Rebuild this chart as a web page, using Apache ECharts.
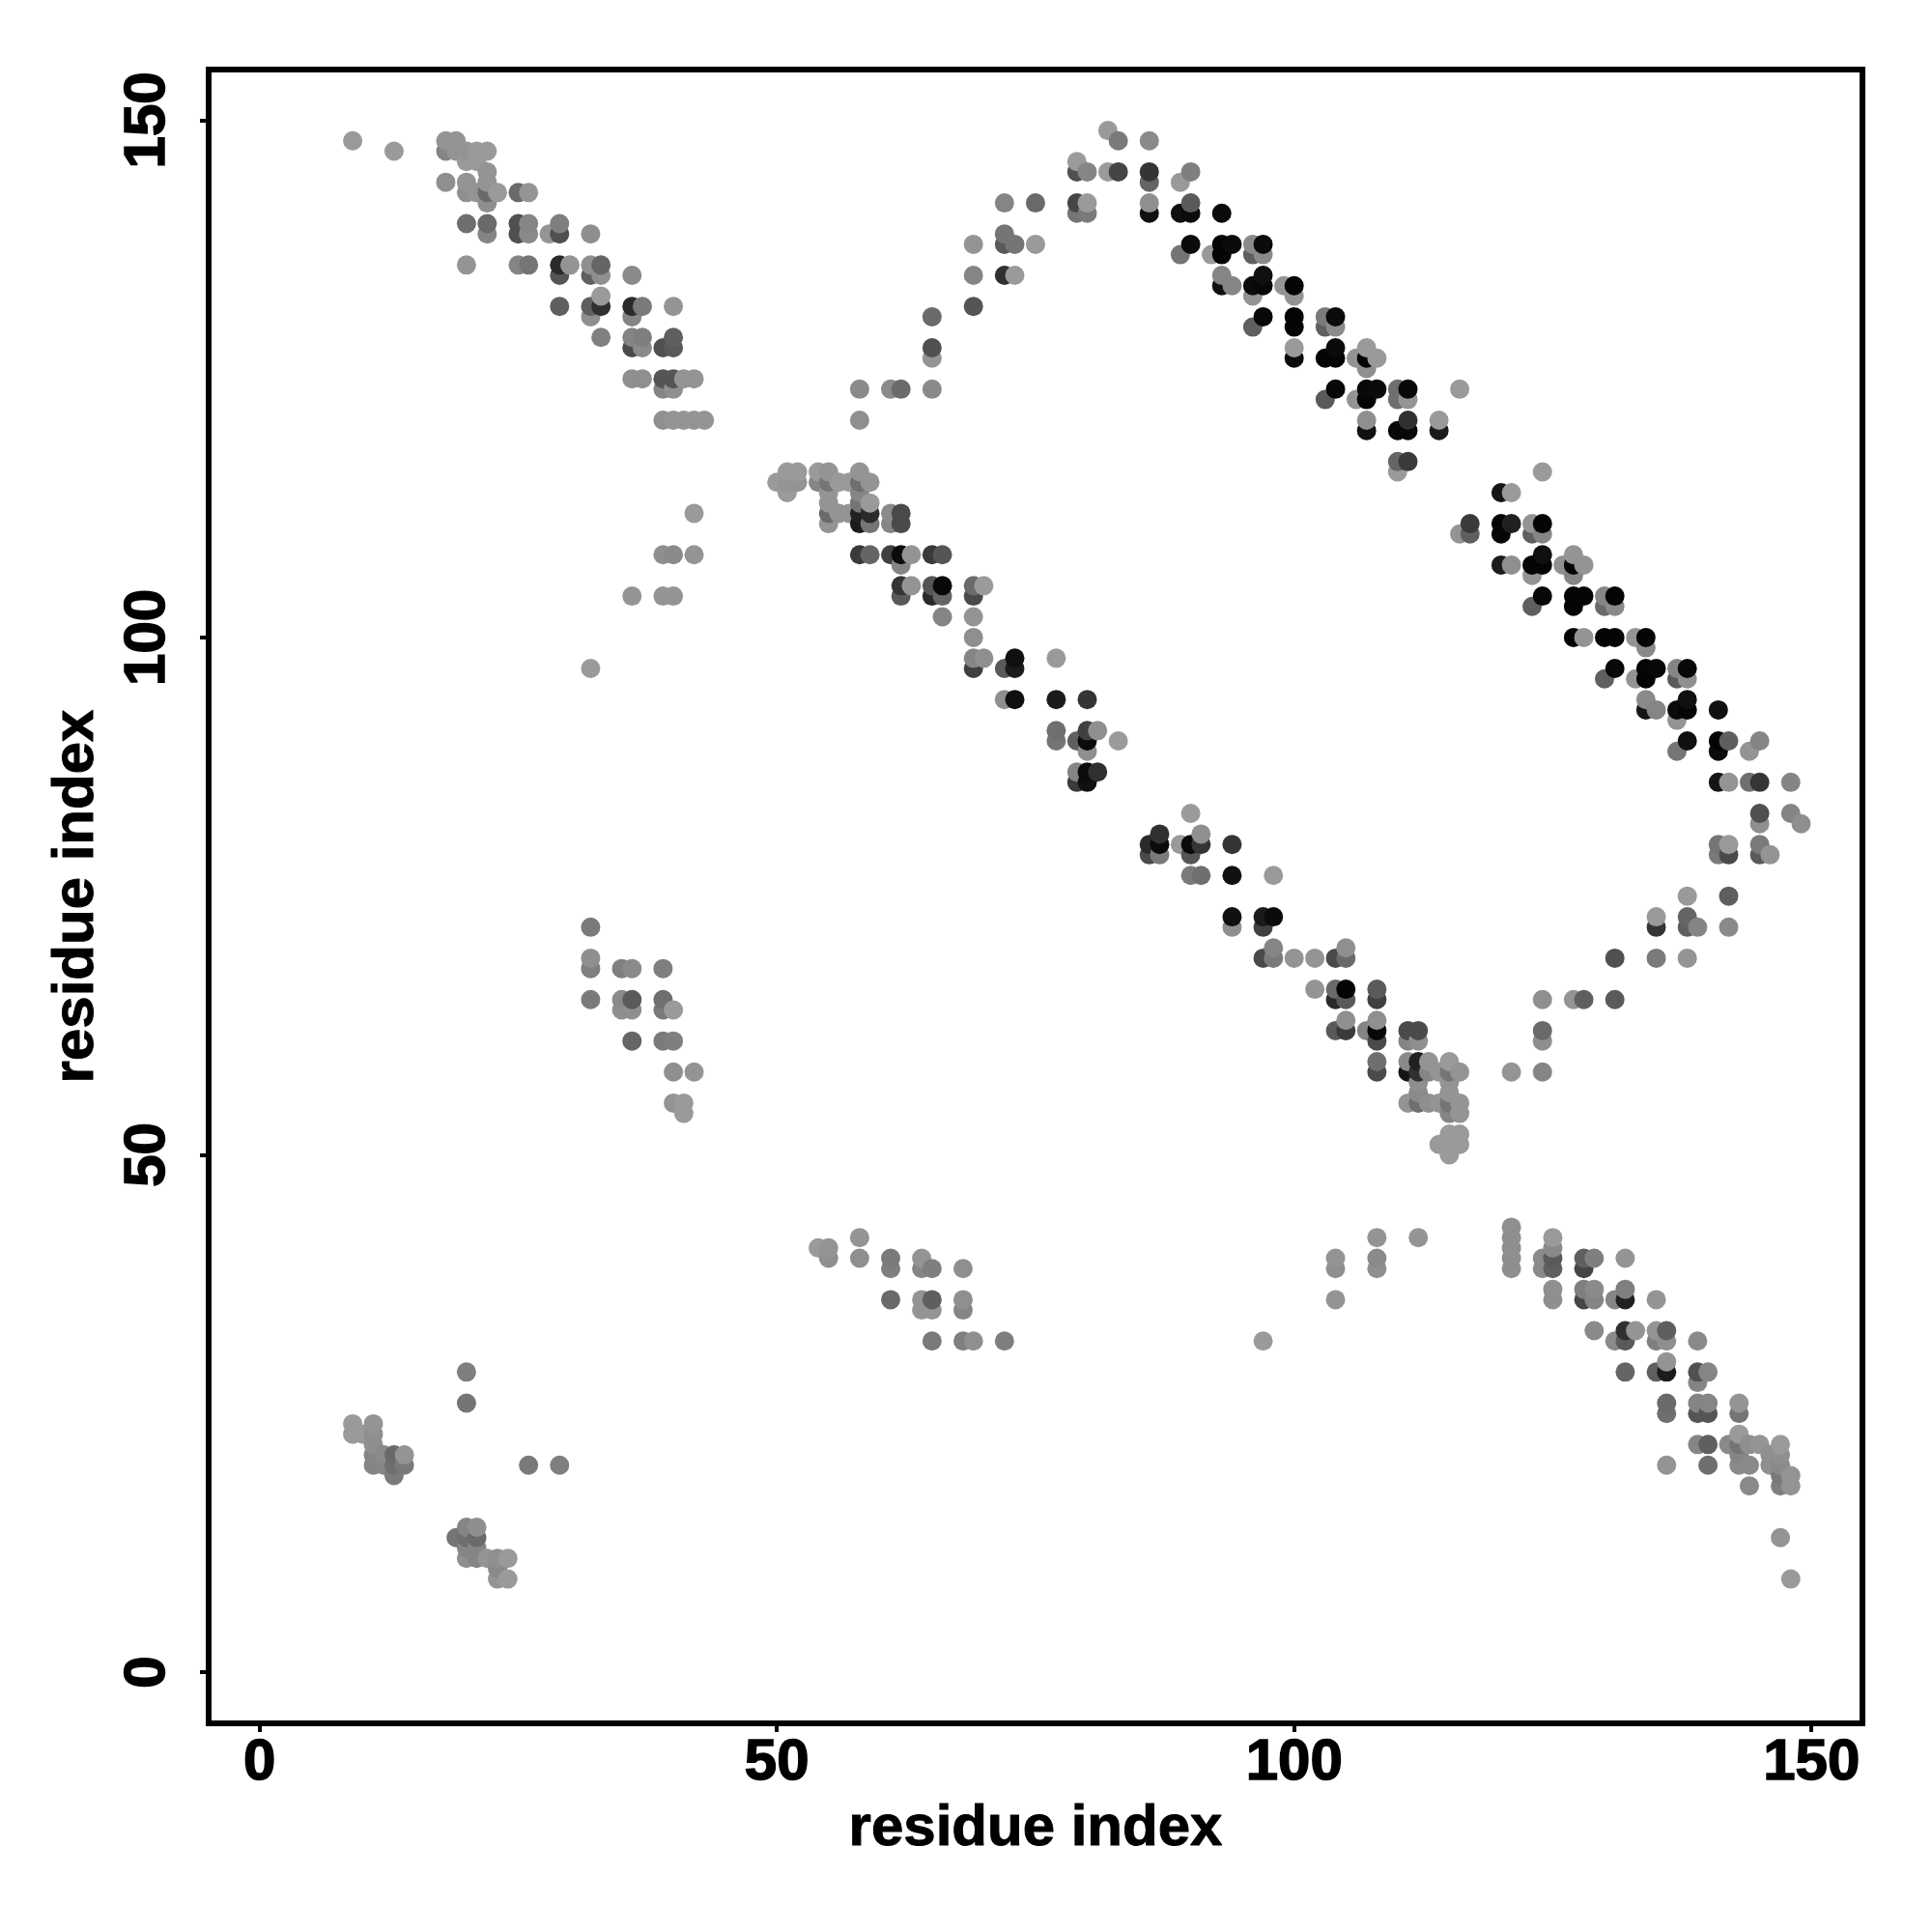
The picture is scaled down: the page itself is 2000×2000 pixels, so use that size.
<!DOCTYPE html>
<html><head><meta charset="utf-8">
<script src="https://cdn.jsdelivr.net/npm/echarts@6/dist/echarts.min.js"></script>
<style>html,body{margin:0;padding:0;background:#fff}#c{width:2000px;height:2000px}</style></head>
<body><div id="c"></div>
<script>
// Each contact: [residue x, residue y, grey level of the point]
var tickValues = [0, 50, 100, 150];
var axisTitle = 'residue index';
var bandTopLeft = [[9,148,145],[13,147,145],[18,148,140],[19,148,140],[18,147,125],[19,147,140],[20,147,140],[21,147,145],[22,147,145],[20,146,145],[21,146,145],[22,145,140],[18,144,135],[20,144,140],[22,144,140],[20,143,135],[21,143,140],[22,143,100],[23,143,145],[22,142,135],[25,143,100],[26,143,140],
[20,140,105],[22,140,100],[25,140,75],[26,140,125],[22,139,125],[25,139,75],[26,139,130],[28,139,140],[29,139,75],[29,140,120],[32,139,135],
[20,136,140],[25,136,125],[26,136,110],[29,136,40],[30,136,140],[32,136,135],[33,136,95],[32,135,90],[33,135,135],[29,135,80],[36,135,130],
[29,132,90],[32,132,90],[33,132,45],[33,133,145],[32,131,135],[36,132,40],[37,132,115],[36,131,125],[40,132,140],[33,129,120],[36,129,125],[37,129,120],[36,128,70],[37,128,130],[39,128,75],[40,128,85],[40,129,90],
[36,125,135],[37,125,135],[39,125,80],[40,125,80],[39,124,125],[40,124,135],[41,125,140],[42,125,140],
[39,121,135],[40,121,140],[41,121,140],[42,121,140],[43,121,140],
[42,112,145],[39,108,135],[40,108,130],[42,108,140],[36,104,140],[39,104,140],[40,104,140],[32,97,145]];
var bandCentreHigh = [[50,115,145],[51,116,145],[52,116,145],[51,115,140],[52,115,140],[51,114,145],[54,116,145],[55,116,140],[54,115,125],[55,115,110],[56,115,145],[57,115,145],[58,116,140],[58,115,105],[59,115,140],[55,114,140],[58,114,125],[55,113,140],[58,113,110],[59,113,145],[55,112,100],[56,112,140],[57,112,140],[58,112,30],[59,112,40],[61,112,130],[62,112,70],[55,111,140],[58,111,25],[59,111,110],[61,111,125],[62,111,70],
[58,108,55],[59,108,95],[61,108,60],[62,108,10],[63,108,140],[65,108,55],[66,108,80],[62,107,125],[62,105,50],[63,105,140],[65,105,80],[66,105,8],[62,104,85],[65,104,40],[66,104,95],[66,102,125],[69,105,100],[70,105,145],[69,104,70],[69,102,140],[69,100,135],[69,98,125],[70,98,135],[69,97,60],[72,97,85],[73,98,15],[73,97,25],[77,98,145],[72,94,135],[73,94,15],[77,94,25],[80,94,50],
[77,91,105],[77,90,110],[79,90,90],[80,91,60],[80,90,10],[81,91,135],[80,89,135],[83,90,145],[79,87,125],[80,87,10],[81,87,45],[79,86,55],[80,86,15],
[90,83,145],[86,80,40],[87,81,45],[86,79,70],[87,79,115],[87,80,10],[89,80,145],[91,81,135],[90,80,10],[91,80,50],[90,79,80],[94,80,50],[90,77,115],[91,77,105],[94,77,15],[98,77,145],[94,73,15],[94,72,135],[97,73,25],[98,73,10],[97,72,60],
[98,70,125],[97,69,70],[98,69,115],[100,69,140],[102,69,140],[104,69,70],[105,70,135],[105,69,100],
[102,66,140],[104,66,100],[105,66,5],[104,65,40],[105,65,85],[108,66,85],[108,65,60],[105,63,135],[108,63,135],[107,62,125],[104,62,85],[105,62,55],[108,62,8],[108,61,70],[111,62,70],[112,62,70],[111,61,125],[112,61,135],
[108,59,105],[108,58,70],[111,59,130],[112,59,30],[113,59,140],[115,59,145],[111,58,20],[112,58,45],[113,58,125],[114,58,140],[115,58,110],[116,58,140],[112,57,135],[115,57,140],[112,56,130],[115,56,140],[111,55,140],[112,55,105],[113,55,135],[114,55,140],[115,55,110],[116,55,140],[115,54,125],[116,54,140],
[115,52,145],[116,52,145],[114,51,145],[115,51,145],[116,51,145],[115,50,145]];
var bandTopCentre = [[58,124,130],[61,124,130],[62,124,100],[65,124,130],[65,127,140],[65,128,75],[65,131,100],[58,121,135],
[69,132,80],[69,135,125],[72,135,45],[73,135,145],[69,138,140],[72,139,110],[72,138,85],[73,138,110],[75,138,145],[72,142,125],[75,142,100],[79,142,65],[80,142,145],[79,141,110],[80,141,115],
[79,146,145],[79,145,75],[80,145,125],[82,145,145],[83,145,65],[82,149,145],[83,148,115],[86,148,130],[86,145,50],[86,144,95],[86,142,135],[86,141,15],[89,144,145],[90,145,120]];
var bandUpperRight = [[89,141,15],[90,141,10],[90,142,85],[93,141,10],[90,138,10],[89,137,110],[92,137,145],[93,138,5],[94,138,10],[93,137,5],[96,138,130],[97,138,10],[96,137,90],[97,137,130],
[93,135,125],[93,134,15],[94,134,125],[96,134,10],[97,135,15],[97,134,8],[96,133,140],[99,134,140],[100,134,5],[100,133,140],
[97,131,8],[96,130,90],[100,131,5],[100,130,5],[103,131,115],[104,131,10],[103,130,90],[104,130,130],
[100,128,145],[100,127,10],[103,127,5],[104,128,10],[104,127,5],[106,127,140],[107,128,145],[108,127,145],[107,127,5],[107,126,135],
[104,124,8],[103,123,85],[106,123,140],[107,124,8],[108,124,10],[107,123,5],[110,124,105],[111,124,8],[110,123,105],[111,123,140],[116,124,145],
[107,121,135],[107,120,15],[110,120,8],[111,120,8],[111,121,45],[114,121,145],[114,120,25],[110,117,95],[111,117,55],[110,116,145]];
var bandFarRight = [[124,116,145],[120,114,20],[121,114,145],[117,111,55],[116,110,140],[117,110,90],[120,111,5],[120,110,5],[121,111,30],[123,111,140],[124,111,5],[123,110,90],[124,110,125],
[120,107,25],[121,107,135],[123,107,5],[124,107,5],[124,108,15],[123,106,140],[126,107,135],[127,107,5],[127,108,140],[128,107,140],[127,106,125],
[124,104,8],[123,103,90],[127,104,5],[127,103,5],[128,104,5],[130,104,125],[131,104,5],[130,103,100],[131,103,130],
[127,100,5],[128,100,140],[130,100,5],[131,100,5],[133,100,140],[134,100,5],[134,99,130],
[131,97,8],[130,96,90],[134,97,5],[133,96,140],[134,96,5],[135,97,8],[137,97,125],[138,97,8],[137,96,85],[138,96,135],
[134,94,130],[134,93,20],[135,93,125],[137,93,10],[138,94,15],[138,93,5],[137,92,140],[141,93,15],
[138,90,15],[137,89,110],[141,90,5],[141,89,10],[142,90,90],[144,89,140],[145,90,125],
[141,86,20],[142,86,140],[144,86,105],[145,86,50],[148,86,125],[145,83,75],[145,82,135],[148,83,125],[149,82,135],
[141,80,110],[142,80,145],[141,79,115],[142,79,70],[145,80,115],[145,79,85],[146,79,140],
[142,75,90],[138,75,145],[138,73,95],[135,73,145],[135,72,50],[138,72,90],[139,72,125],[142,72,130],[131,69,75],[135,69,115],[138,69,140],
[121,58,140],[124,65,135],[124,62,100],[124,61,135],[124,58,125],[127,65,140],[128,65,90],[131,65,85]];
var bandLowerRight = [[97,32,145],[104,40,140],[104,39,135],[104,36,140],[108,42,140],[108,40,130],[108,39,135],[112,42,140],
[121,43,135],[121,42,135],[121,41,135],[121,40,135],[121,39,135],[124,40,130],[124,39,130],[125,42,145],[125,41,130],[125,40,85],[125,39,90],[125,37,135],[125,36,135],
[128,40,90],[129,40,120],[128,39,65],[132,40,140],[128,37,120],[129,37,130],[128,36,65],[129,36,125],[131,36,125],[132,37,120],[132,36,30],[135,36,140],
[129,33,130],[131,32,130],[132,33,45],[132,32,85],[133,33,140],[135,33,140],[135,32,120],[136,33,90],[136,32,135],[139,32,130],
[132,29,95],[135,29,90],[136,29,25],[136,30,140],[139,29,75],[140,29,125],[139,28,125],
[136,26,100],[136,25,105],[139,26,125],[140,26,125],[143,26,140],[139,25,80],[140,25,80],[143,25,110],
[139,22,125],[140,22,90],[142,22,130],[143,22,110],[144,22,135],[145,22,140],[147,22,145],[143,23,145],[143,21,125],[146,21,135],[147,21,135],[136,20,140],[140,20,105],[143,20,130],[144,20,130],[146,20,135],[147,20,130],[147,19,115],[148,19,140],[144,18,130],[147,18,120],[148,18,140],[147,13,140],[148,9,145]];
var bandMidLeft = [[32,72,115],[32,69,135],[32,68,120],[32,65,115],[35,68,120],[36,68,130],[39,68,120],[35,65,130],[36,65,85],[35,64,135],[36,64,135],[39,65,105],[39,64,115],[40,64,145],[36,61,95],[39,61,115],[40,61,120],[40,58,135],[42,58,140],[40,55,140],[41,55,145],[41,54,145]];
var bandBottomCentre = [[54,41,145],[55,41,140],[55,40,135],[58,42,140],[58,40,135],[61,40,115],[61,39,120],[61,36,100],[64,40,140],[64,39,125],[65,39,120],[68,39,135],[64,36,140],[64,35,140],[65,36,90],[65,35,140],[68,36,135],[68,35,125],[65,32,115],[68,32,120],[69,32,135],[72,32,120]];
var bandBottomLeft = [[20,29,120],[20,26,110],[9,24,145],[9,23,145],[10,23,145],[11,24,140],[11,23,135],[11,22,135],[11,21,125],[11,20,125],[12,21,130],[12,20,125],[13,21,100],[13,20,105],[14,21,140],[14,20,115],[13,19,115],[26,20,115],[29,20,120],
[19,13,110],[20,14,125],[21,14,135],[20,13,105],[21,13,100],[20,12,125],[21,12,125],[20,11,135],[21,11,125],[22,11,140],[23,11,135],[24,11,145],[23,10,130],[23,9,140],[24,9,145]];

var contacts = [].concat(bandTopLeft, bandCentreHigh, bandTopCentre, bandUpperRight, bandFarRight,
                         bandLowerRight, bandMidLeft, bandBottomCentre, bandBottomLeft);
contacts.sort(function (a, b) { return a[0] - b[0] || a[1] - b[1]; });

var font = 'Liberation Sans';
var tickText = { fontFamily: font, fontWeight: 'bold', fontSize: 60, color: '#000', textBorderColor: '#000', textBorderWidth: 1.5 };
var titleText = { fontFamily: font, fontWeight: 'bold', fontSize: 60, color: '#000', textBorderColor: '#000', textBorderWidth: 1 };
function axis(extra) {
  return Object.assign({
    type: 'value',
    nameLocation: 'middle', name: axisTitle, nameTextStyle: titleText,
    axisLine: { show: false, onZero: false },
    axisTick: { show: true, length: 9, lineStyle: { color: '#000', width: 4 }, customValues: tickValues },
    splitLine: { show: false }
  }, extra);
}
var chart = echarts.init(document.getElementById('c'), null, { renderer: 'canvas', width: 2000, height: 2000 });
chart.setOption({
  animation: false,
  backgroundColor: '#fff',
  grid: { show: true, left: 216, top: 72, width: 1712, height: 1712, borderColor: '#000', borderWidth: 6, backgroundColor: 'transparent', containLabel: false },
  xAxis: axis({ min: -4.92, max: 154.93, nameGap: 79, axisLabel: Object.assign({ margin: 11, customValues: tickValues }, tickText) }),
  yAxis: axis({ min: -4.95, max: 154.89, nameGap: 107, nameRotate: 90, axisLabel: Object.assign({ margin: 33, rotate: 90, customValues: tickValues }, tickText) }),
  series: [{
    type: 'scatter', symbol: 'circle', symbolSize: 20, large: false,
    data: contacts,
    itemStyle: { opacity: 1, color: function (p) { var g = Math.min(255, Math.round(p.data[2] * 1.06)); return 'rgb(' + g + ',' + g + ',' + g + ')'; } }
  }]
});
</script></body></html>
